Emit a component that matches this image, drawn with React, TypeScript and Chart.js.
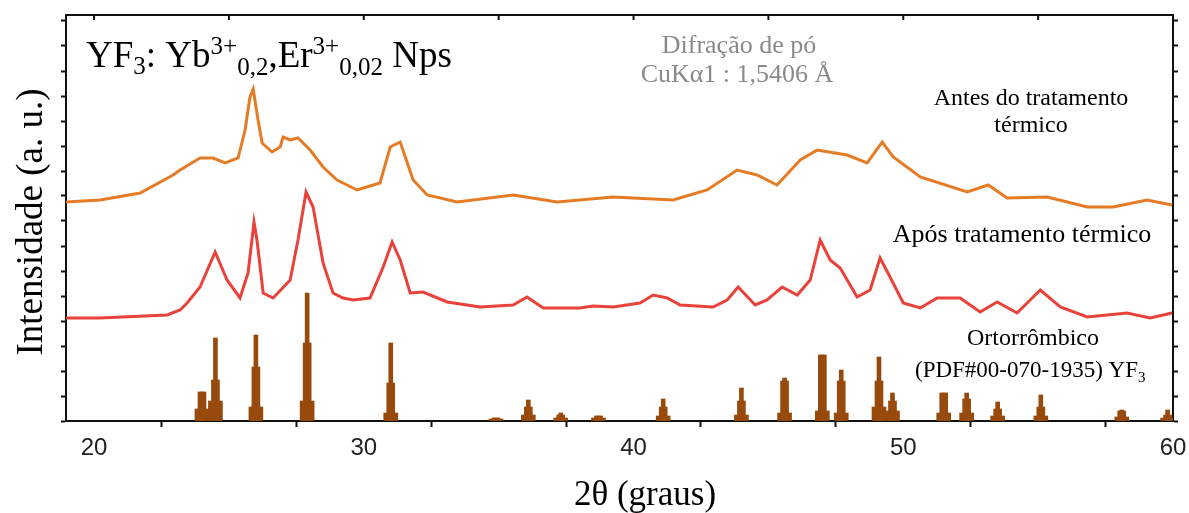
import React, { useEffect, useRef } from 'react';
import { Chart, registerables } from 'chart.js';

Chart.register(...registerables);

// ---- Data ----
const xTicks = [20, 25, 30, 35, 40, 45, 50, 55, 60];
const xTickLabels = ['20', '', '30', '', '40', '', '50', '', '60'];
const yTicks = [0, 25, 50, 75, 100, 125, 150, 175, 200, 225, 250, 275, 300, 325, 350, 375, 400];

// Antes do tratamento térmico (orange)
const orangeX = [18.96, 20.22, 21.71, 22.93, 23.19, 23.93, 24.41, 24.86, 25.34, 25.6, 25.78, 25.9, 26.08, 26.23, 26.6, 26.9, 27.01, 27.27, 27.56, 28.01, 28.49, 29.01, 29.75, 30.6, 30.98, 31.35, 31.83, 32.35, 33.46, 35.54, 37.17, 39.24, 41.47, 42.73, 43.84, 44.58, 45.32, 46.18, 46.81, 47.92, 48.66, 49.22, 49.63, 50.63, 52.37, 53.15, 53.85, 55.34, 56.82, 57.78, 59.04, 59.97];
const orangeY = [219, 221, 228, 246, 251, 263, 263, 258, 263, 291, 324, 332, 301, 278, 269, 274, 284, 281, 283, 271, 254, 241, 231, 238, 274, 279, 241, 226, 219, 226, 219, 224, 221, 231, 251, 246, 236, 261, 271, 266, 258, 279, 264, 244, 229, 236, 223, 224, 214, 214, 221, 216];

// Após tratamento térmico (red)
const redX = [18.96, 20.22, 22.71, 23.19, 23.45, 23.93, 24.49, 24.93, 25.41, 25.71, 25.93, 26.04, 26.27, 26.64, 27.27, 27.56, 27.86, 28.12, 28.49, 28.86, 29.23, 29.6, 30.23, 30.72, 31.05, 31.35, 31.72, 32.2, 33.09, 34.31, 35.54, 36.05, 36.65, 38.02, 38.5, 39.24, 40.24, 40.73, 41.25, 41.73, 42.95, 43.47, 43.88, 44.51, 44.95, 45.51, 46.07, 46.55, 46.92, 47.29, 47.66, 48.29, 48.77, 49.14, 49.51, 50.0, 50.63, 51.26, 52.11, 52.85, 53.48, 54.22, 55.08, 55.82, 56.82, 58.3, 59.15, 59.97];
const redY = [103, 103, 106, 111, 118, 134, 169, 141, 123, 148, 199, 181, 128, 123, 141, 181, 229, 214, 158, 128, 123, 121, 123, 154, 179, 161, 128, 129, 119, 114, 116, 124, 113, 113, 115, 114, 118, 126, 123, 116, 114, 121, 134, 116, 121, 134, 126, 141, 181, 161, 153, 124, 131, 163, 144, 118, 113, 123, 123, 109, 119, 108, 131, 114, 104, 108, 103, 108];

// Ortorrômbico (PDF#00-070-1935) YF3 reference lines
const stickX = [24.0, 24.5, 26.0, 27.9, 31.0, 34.9, 36.1, 37.3, 38.7, 41.1, 44.0, 45.6, 47.0, 47.7, 49.1, 49.6, 51.5, 52.35, 53.5, 55.1, 58.1, 59.8];
const stickTop = [29, 83, 86, 128, 78, 3, 21, 8, 5, 22, 33, 43, 66, 51, 64, 28, 28, 28, 19, 26, 11, 11];
const stickMid = [29, 41, 54, 78, 38, 3, 14, 6, 5, 14, 20, 40, 66, 40, 40, 20, 28, 22, 12, 14, 10, 6];
const stickBase = [12, 20, 14, 20, 8, 2, 6, 3, 3, 5, 6, 8, 10, 8, 14, 10, 8, 8, 5, 5, 4, 3];

const SERIF = '"Liberation Serif", "Times New Roman", serif';
const SANS = '"Liberation Sans", Arial, sans-serif';

type Seg = { text: string; size: number; dy?: number };

function drawRich(ctx: CanvasRenderingContext2D, x: number, y: number, segs: Seg[], align: 'left' | 'center', color: string) {
  ctx.save();
  ctx.fillStyle = color;
  ctx.textBaseline = 'alphabetic';
  ctx.textAlign = 'left';
  let total = 0;
  const widths = segs.map((s) => {
    ctx.font = `${s.size}px ${SERIF}`;
    const w = ctx.measureText(s.text).width;
    total += w;
    return w;
  });
  let cx = align === 'center' ? x - total / 2 : x;
  segs.forEach((s, i) => {
    ctx.font = `${s.size}px ${SERIF}`;
    ctx.fillText(s.text, cx, y + (s.dy || 0));
    cx += widths[i];
  });
  ctx.restore();
}

const textPlugin = {
  id: 'textPlugin',
  afterDraw(chart: any) {
    const ctx: CanvasRenderingContext2D = chart.ctx;
    const xs = chart.scales.x;
    const area = chart.chartArea;
    // inward ticks on top frame
    ctx.save();
    ctx.strokeStyle = '#111';
    ctx.lineWidth = 2;
    xTicks.forEach((v) => {
      const px = xs.getPixelForValue(v);
      ctx.beginPath();
      ctx.moveTo(px, area.top);
      ctx.lineTo(px, area.top + 5);
      ctx.stroke();
    });
    ctx.restore();

    // axis titles
    ctx.save();
    ctx.fillStyle = '#000';
    ctx.font = `37px ${SERIF}`;
    ctx.textAlign = 'center';
    ctx.textBaseline = 'alphabetic';
    ctx.translate(42, 222);
    ctx.rotate(-Math.PI / 2);
    ctx.fillText('Intensidade (a. u.)', 0, 0);
    ctx.restore();

    ctx.save();
    ctx.fillStyle = '#000';
    ctx.font = `35px ${SERIF}`;
    ctx.textAlign = 'center';
    ctx.textBaseline = 'alphabetic';
    ctx.fillText('2θ (graus)', 645, 505);
    ctx.restore();

    // sample label
    drawRich(ctx, 86, 67, [
      { text: 'YF', size: 37 },
      { text: '3', size: 25, dy: 7 },
      { text: ': Yb', size: 37 },
      { text: '3+', size: 25, dy: -13 },
      { text: '0,2', size: 25, dy: 8 },
      { text: ',Er', size: 37 },
      { text: '3+', size: 25, dy: -13 },
      { text: '0,02', size: 25, dy: 8 },
      { text: ' Nps', size: 37 },
    ], 'left', '#000');

    drawRich(ctx, 739, 53, [{ text: 'Difração de pó', size: 26 }], 'center', '#8a8a8a');
    drawRich(ctx, 737, 82, [{ text: 'CuKα1 : 1,5406 Å', size: 26 }], 'center', '#8a8a8a');

    drawRich(ctx, 1031, 105, [{ text: 'Antes do tratamento', size: 24 }], 'center', '#000');
    drawRich(ctx, 1031, 132, [{ text: 'térmico', size: 24 }], 'center', '#000');

    drawRich(ctx, 1022, 242, [{ text: 'Após tratamento térmico', size: 26 }], 'center', '#000');

    drawRich(ctx, 1033, 345, [{ text: 'Ortorrômbico', size: 24 }], 'center', '#000');
    drawRich(ctx, 915, 377, [
      { text: '(PDF#00-070-1935) YF', size: 23 },
      { text: '3', size: 15, dy: 5 },
    ], 'left', '#000');
  },
};

const whiteBg = {
  id: 'whiteBg',
  beforeDraw(chart: any) {
    const ctx = chart.ctx;
    ctx.save();
    ctx.fillStyle = '#fff';
    ctx.fillRect(0, 0, chart.width, chart.height);
    ctx.restore();
  },
};

export default function App() {
  const ref = useRef<HTMLCanvasElement | null>(null);

  useEffect(() => {
    if (!ref.current) return;
    const stickColor = '#984a0c';
    const mk = (vals: number[]) => stickX.map((x, i) => ({ x, y: vals[i] }));
    const chart = new Chart(ref.current, {
      type: 'bar',
      data: {
        datasets: [
          {
            type: 'line',
            label: 'Antes do tratamento térmico',
            data: orangeX.map((x, i) => ({ x, y: orangeY[i] })),
            borderColor: '#e57c25',
            borderWidth: 3,
            pointRadius: 0,
            tension: 0,
            fill: false,
          } as any,
          {
            type: 'line',
            label: 'Após tratamento térmico',
            data: redX.map((x, i) => ({ x, y: redY[i] })),
            borderColor: '#e8423b',
            borderWidth: 3,
            pointRadius: 0,
            tension: 0,
            fill: false,
          } as any,
          {
            type: 'bar',
            label: 'base',
            data: mk(stickBase),
            backgroundColor: stickColor,
            barThickness: 14,
            grouped: false,
          } as any,
          {
            type: 'bar',
            label: 'mid',
            data: mk(stickMid),
            backgroundColor: stickColor,
            barThickness: 8,
            grouped: false,
          } as any,
          {
            type: 'bar',
            label: 'top',
            data: mk(stickTop),
            backgroundColor: stickColor,
            barThickness: 4,
            grouped: false,
          } as any,
        ],
      },
      options: {
        responsive: false,
        animation: false,
        maintainAspectRatio: false,
        layout: { padding: 0 },
        plugins: { legend: { display: false }, tooltip: { enabled: false } },
        scales: {
          x: {
            type: 'linear',
            position: 'bottom',
            min: 18.96,
            max: 60,
            offset: false,
            afterBuildTicks: (s: any) => {
              s.ticks = xTicks.map((v) => ({ value: v }));
            },
            afterFit: (s: any) => {
              s.height = 92;
              s.paddingLeft = 0;
              s.paddingRight = 0;
            },
            ticks: {
              callback: (v: any) => {
                const i = xTicks.indexOf(Number(v));
                return i >= 0 ? xTickLabels[i] : '';
              },
              font: { family: SANS, size: 24 },
              color: '#222',
              padding: 7,
              maxRotation: 0,
              autoSkip: false,
            },
            grid: { drawOnChartArea: false, drawTicks: true, tickLength: 6, tickWidth: 2, tickColor: '#111' },
            border: { display: true, color: '#111', width: 2 },
          },
          x2: {
            type: 'linear',
            position: 'top',
            min: 18.96,
            max: 60,
            offset: false,
            afterFit: (s: any) => {
              s.height = 15;
              s.paddingLeft = 0;
              s.paddingRight = 0;
            },
            ticks: { display: false },
            grid: { drawOnChartArea: false, drawTicks: false },
            border: { display: true, color: '#111', width: 2 },
          },
          y: {
            type: 'linear',
            position: 'left',
            min: 0,
            max: 406,
            afterBuildTicks: (s: any) => {
              s.ticks = yTicks.map((v) => ({ value: v }));
            },
            afterFit: (s: any) => {
              s.width = 66;
              s.paddingTop = 0;
              s.paddingBottom = 0;
            },
            ticks: { display: false },
            grid: { drawOnChartArea: false, drawTicks: true, tickLength: 5, tickWidth: 2, tickColor: '#111' },
            border: { display: true, color: '#111', width: 2 },
          },
          y2: {
            type: 'linear',
            position: 'right',
            min: 0,
            max: 406,
            afterBuildTicks: (s: any) => {
              s.ticks = yTicks.map((v) => ({ value: v }));
            },
            afterFit: (s: any) => {
              s.width = 16;
              s.paddingTop = 0;
              s.paddingBottom = 0;
            },
            ticks: { display: false },
            grid: { drawOnChartArea: false, drawTicks: true, tickLength: 5, tickWidth: 2, tickColor: '#111' },
            border: { display: true, color: '#111', width: 2 },
          },
        },
      } as any,
      plugins: [whiteBg, textPlugin],
    });
    return () => chart.destroy();
  }, []);

  return (
    <div style={{ position: 'fixed', left: 0, top: 0, width: 1189, height: 513, background: '#fff' }}>
      <canvas ref={ref} width={1189} height={513} style={{ width: 1189, height: 513, display: 'block' }} />
    </div>
  );
}
